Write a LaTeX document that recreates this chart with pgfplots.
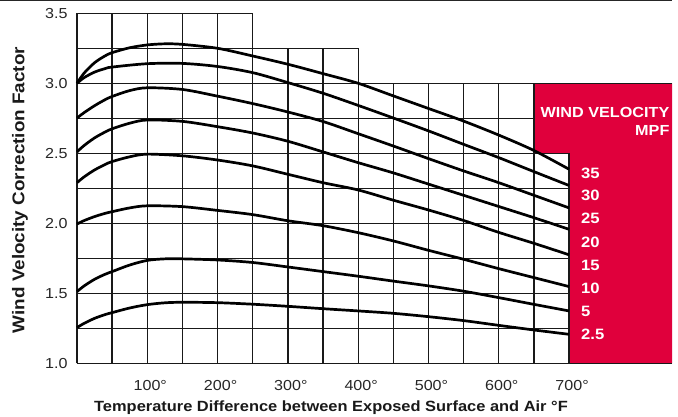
\documentclass[border=0pt]{standalone}
\usepackage{fontspec}
\setmainfont[FakeStretch=1.11]{Liberation Sans}
\usepackage{pgfplots}
\pgfplotsset{compat=1.18}
\definecolor{wred}{RGB}{224,0,60}
\tikzset{gridl/.style={line width=1.3pt, black!90}}
\pgfplotsset{curve/.style={black, line width=2.7pt, smooth, tension=0.5, mark=none}}
\begin{document}
\begin{tikzpicture}
\path[use as bounding box] (-77pt,-53.7pt) rectangle (601pt,363.3pt);
\begin{axis}[
  at={(0,0)}, anchor=south west,
  scale only axis, width=595pt, height=350pt,
  xmin=0, xmax=846.4, ymin=1, ymax=3.5,
  axis line style={draw=none},
  clip=false,
  xtick={100,200,300,400,500,600,700},
  xticklabels={100°,200°,300°,400°,500°,600°,700°},
  ytick={1,1.5,2,2.5,3,3.5},
  yticklabels={1.0,1.5,2.0,2.5,3.0,3.5},
  major tick length=0pt,
  tick label style={font=\fontsize{14.5}{16}\selectfont, text=black!85},
  xticklabel style={yshift=-14pt, xshift=3pt},
  yticklabel style={xshift=-6pt},
]
% red box
\fill[wred] (axis cs:650,3) -- (axis cs:846.4,3) -- (axis cs:846.4,1) -- (axis cs:700,1) -- (axis cs:700,2.5) -- (axis cs:650,2.5) -- cycle;
% grid
\pgfplotsinvokeforeach{0,50,100,150,200,250}{\draw[gridl] (axis cs:#1,1) -- (axis cs:#1,3.5);}
\pgfplotsinvokeforeach{300,350,400}{\draw[gridl] (axis cs:#1,1) -- (axis cs:#1,3.25);}
\pgfplotsinvokeforeach{450,500,550,600,650}{\draw[gridl] (axis cs:#1,1) -- (axis cs:#1,3);}
\draw[gridl] (axis cs:700,1) -- (axis cs:700,2.5);
\draw[gridl] (axis cs:0,3.5) -- (axis cs:250,3.5);
\draw[gridl] (axis cs:0,3.25) -- (axis cs:400,3.25);
\draw[gridl] (axis cs:0,3) -- (axis cs:846.4,3);
\draw[gridl] (axis cs:0,2.75) -- (axis cs:650,2.75);
\pgfplotsinvokeforeach{1.25,1.5,1.75,2,2.25,2.5}{\draw[gridl] (axis cs:0,#1) -- (axis cs:700,#1);}
\draw[gridl] (axis cs:0,1) -- (axis cs:846.4,1);
% curves
% 35
\addplot[curve] coordinates {(0,3.0)(10,3.072)(25,3.147)(40,3.196)(50,3.219)(75,3.254)(100,3.274)(125,3.282)(150,3.278)(200,3.25)(250,3.195)(300,3.136)(350,3.069)(400,3.0)(450,2.91)(500,2.82)(550,2.73)(600,2.63)(650,2.52)(700,2.386)};
% 30
\addplot[curve] coordinates {(0,3.0)(10,3.04)(25,3.08)(40,3.105)(50,3.116)(100,3.14)(150,3.142)(200,3.12)(250,3.076)(300,3.005)(350,2.929)(400,2.842)(450,2.752)(500,2.66)(550,2.564)(600,2.469)(650,2.369)(700,2.27)};
% 25
\addplot[curve] coordinates {(0,2.752)(10,2.79)(25,2.84)(40,2.883)(50,2.906)(75,2.948)(100,2.968)(150,2.956)(200,2.908)(250,2.855)(300,2.795)(350,2.727)(400,2.64)(450,2.552)(500,2.462)(550,2.374)(600,2.29)(650,2.2)(700,2.11)};
% 20
\addplot[curve] coordinates {(0,2.51)(10,2.555)(25,2.61)(40,2.652)(50,2.675)(75,2.715)(100,2.738)(150,2.728)(200,2.69)(250,2.645)(300,2.586)(350,2.51)(400,2.433)(450,2.36)(500,2.28)(550,2.2)(600,2.12)(650,2.04)(700,1.957)};
% 15
\addplot[curve] coordinates {(0,2.29)(10,2.331)(25,2.381)(40,2.42)(50,2.441)(75,2.475)(100,2.494)(150,2.482)(200,2.452)(250,2.41)(300,2.35)(350,2.29)(400,2.238)(450,2.165)(500,2.095)(550,2.02)(600,1.935)(650,1.857)(700,1.775)};
% 10
\addplot[curve] coordinates {(0,1.995)(10,2.019)(25,2.048)(40,2.071)(50,2.083)(75,2.11)(100,2.125)(150,2.119)(200,2.092)(250,2.062)(300,2.018)(350,1.983)(400,1.933)(450,1.874)(500,1.807)(550,1.743)(600,1.676)(650,1.612)(700,1.548)};
% 5
\addplot[curve] coordinates {(0,1.512)(10,1.552)(25,1.6)(40,1.636)(50,1.655)(75,1.702)(100,1.735)(125,1.746)(150,1.746)(200,1.738)(250,1.72)(300,1.688)(350,1.655)(400,1.622)(450,1.587)(500,1.553)(550,1.515)(600,1.469)(650,1.421)(700,1.374)};
% 2.5
\addplot[curve] coordinates {(0,1.255)(10,1.285)(25,1.321)(40,1.348)(50,1.362)(75,1.395)(100,1.419)(125,1.432)(150,1.436)(200,1.433)(250,1.422)(300,1.407)(350,1.39)(400,1.374)(450,1.357)(500,1.333)(550,1.305)(600,1.271)(650,1.238)(700,1.207)};
% legend text
\begin{scope}[every node/.style={text=white, font=\bfseries\fontsize{15}{17}\selectfont, inner sep=0pt}]
\node[anchor=east, font=\bfseries\fontsize{14.6}{17}\selectfont] at (axis cs:843,2.795) {WIND VELOCITY};
\node[anchor=east, font=\bfseries\fontsize{14.6}{17}\selectfont] at (axis cs:843,2.666) {MPF};
\node[anchor=west] at (axis cs:717,2.359) {35};
\node[anchor=west] at (axis cs:717,2.202) {30};
\node[anchor=west] at (axis cs:717,2.038) {25};
\node[anchor=west] at (axis cs:717,1.866) {20};
\node[anchor=west] at (axis cs:717,1.702) {15};
\node[anchor=west] at (axis cs:717,1.538) {10};
\node[anchor=west] at (axis cs:717,1.374) {5};
\node[anchor=west] at (axis cs:717,1.209) {2.5};
\end{scope}
\end{axis}
\node[font=\bfseries\fontsize{14.8}{17}\selectfont, text=black!90] at (254pt,-44.7pt) {Temperature Difference between Exposed Surface and Air °F};
\node[rotate=90, font=\bfseries\fontsize{17}{19}\selectfont, text=black!90] at (-57pt,173.3pt) {Wind Velocity Correction Factor};
\draw[line width=1.3pt, black!85] (-77pt,362.6pt) -- (595pt,362.6pt);
\end{tikzpicture}
\end{document}
